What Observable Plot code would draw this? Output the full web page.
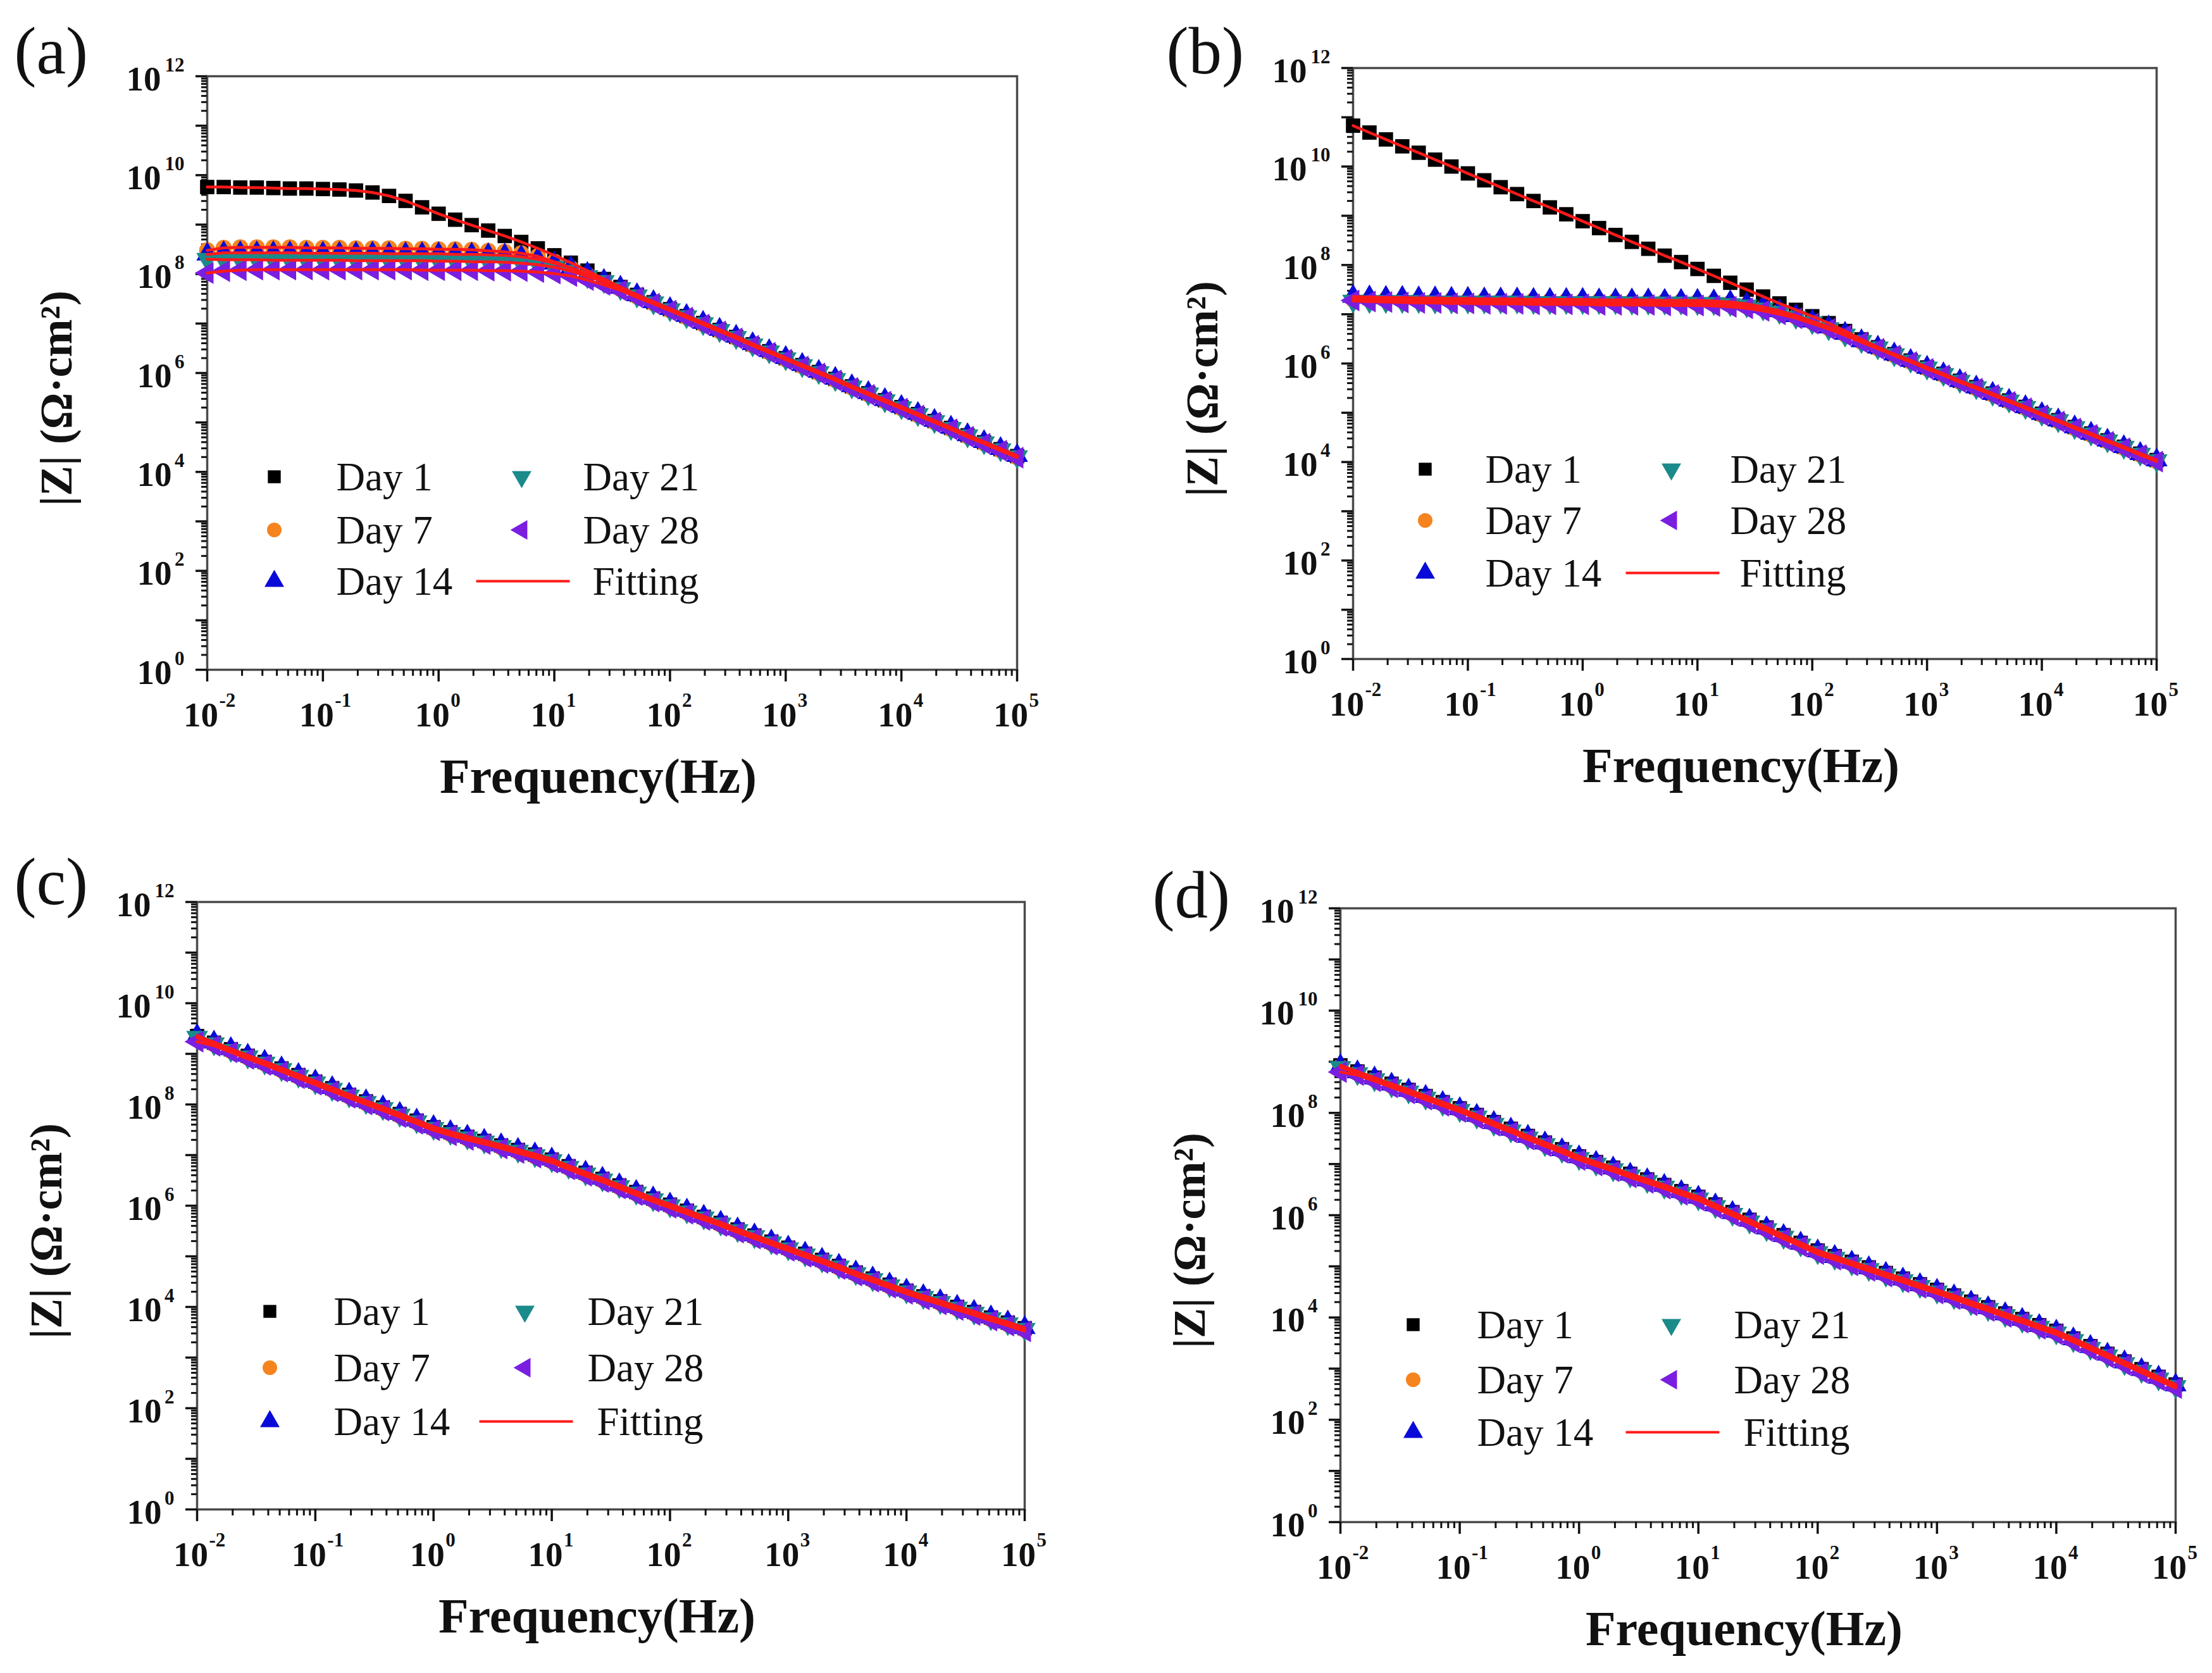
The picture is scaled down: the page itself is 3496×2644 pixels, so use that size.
<!DOCTYPE html>
<html>
<head>
<meta charset="utf-8">
<script src="https://cdn.jsdelivr.net/npm/d3@7"></script>
<script src="https://cdn.jsdelivr.net/npm/@observablehq/plot@0.6"></script>
<style>
html, body { margin: 0; padding: 0; background: #ffffff; }
#fig { position: relative; width: 3496px; height: 2644px; background: #ffffff; overflow: hidden; }
#fig svg { position: absolute; }
</style>
</head>
<body>
<div id="fig"></div>
<script>
// ---------- data ----------
const freq = [0.01,0.01389,0.01931,0.02683,0.03728,0.05179,0.07197,
  0.1,0.1389,0.1931,0.2683,0.3728,0.5179,0.7197,
  1,1.389,1.931,2.683,3.728,5.179,7.197,
  10,13.89,19.31,26.83,37.28,51.79,71.97,
  100,138.9,193.1,268.3,372.8,517.9,719.7,
  1000,1389,1931,2683,3728,5179,7197,
  10000,13890,19310,26830,37280,51790,71970,
  100000];

const seriesNames = ["Day 1", "Day 7", "Day 14", "Day 21", "Day 28"];

// log10 |Z| values
const a_day1  = [9.76,9.76,9.75,9.75,9.74,9.73,9.73,9.72,9.71,9.69,9.65,9.58,9.48,9.35,9.22,9.10,8.99,8.88,8.77,8.65,8.52,8.38,8.23,8.07,7.90,7.74,7.58,7.43,7.29,7.15,7.01,6.87,6.73,6.58,6.44,6.30,6.16,6.02,5.88,5.73,5.59,5.45,5.31,5.17,5.03,4.89,4.74,4.60,4.46,4.32];
const a_day7  = [8.48,8.53,8.54,8.54,8.54,8.54,8.53,8.53,8.53,8.52,8.52,8.52,8.51,8.51,8.50,8.50,8.49,8.47,8.45,8.42,8.36,8.25,8.12,7.98,7.84,7.70,7.55,7.41,7.27,7.13,6.99,6.85,6.71,6.56,6.42,6.28,6.14,6.00,5.86,5.71,5.57,5.43,5.29,5.15,5.01,4.87,4.72,4.58,4.44,4.30];
const a_day14 = [8.40,8.43,8.43,8.43,8.43,8.43,8.42,8.42,8.42,8.42,8.42,8.41,8.41,8.41,8.41,8.40,8.40,8.39,8.38,8.35,8.30,8.22,8.13,8.01,7.87,7.73,7.58,7.44,7.30,7.16,7.02,6.88,6.74,6.59,6.45,6.31,6.17,6.03,5.89,5.74,5.60,5.46,5.32,5.18,5.04,4.90,4.75,4.61,4.47,4.33];
const a_day21 = [8.30,8.29,8.29,8.29,8.28,8.28,8.28,8.28,8.28,8.27,8.27,8.27,8.27,8.27,8.26,8.26,8.25,8.25,8.24,8.22,8.19,8.14,8.06,7.95,7.85,7.71,7.56,7.42,7.28,7.14,7.00,6.86,6.72,6.57,6.43,6.29,6.15,6.01,5.87,5.72,5.58,5.44,5.30,5.16,5.02,4.88,4.73,4.59,4.45,4.31];
const a_day28 = [8.02,8.06,8.08,8.09,8.09,8.09,8.09,8.09,8.09,8.09,8.09,8.09,8.09,8.08,8.08,8.08,8.08,8.07,8.07,8.06,8.04,8.01,7.96,7.88,7.78,7.67,7.53,7.40,7.26,7.12,6.98,6.84,6.70,6.55,6.41,6.27,6.13,5.99,5.85,5.70,5.56,5.42,5.28,5.14,5.00,4.86,4.71,4.57,4.43,4.29];

const b_day1  = [10.83,10.69,10.55,10.41,10.28,10.14,10.00,9.86,9.72,9.58,9.44,9.30,9.17,9.03,8.89,8.75,8.61,8.47,8.33,8.19,8.06,7.92,7.78,7.64,7.50,7.36,7.22,7.09,6.96,6.82,6.66,6.49,6.33,6.19,6.06,5.92,5.79,5.65,5.52,5.39,5.25,5.12,4.98,4.85,4.71,4.58,4.44,4.31,4.17,4.04];
const b_day7  = [7.30,7.30,7.30,7.29,7.29,7.29,7.29,7.28,7.28,7.28,7.28,7.28,7.27,7.27,7.27,7.27,7.27,7.26,7.26,7.26,7.26,7.25,7.25,7.23,7.19,7.13,7.05,6.95,6.84,6.72,6.59,6.44,6.31,6.17,6.04,5.90,5.77,5.63,5.50,5.37,5.23,5.10,4.96,4.83,4.69,4.56,4.42,4.29,4.15,4.02];
const b_day14 = [7.36,7.35,7.34,7.34,7.33,7.33,7.32,7.32,7.31,7.31,7.31,7.30,7.30,7.30,7.30,7.29,7.29,7.29,7.29,7.28,7.28,7.28,7.27,7.25,7.21,7.15,7.07,6.97,6.86,6.74,6.61,6.46,6.33,6.19,6.06,5.92,5.79,5.65,5.52,5.39,5.25,5.12,4.98,4.85,4.71,4.58,4.44,4.31,4.17,4.04];
const b_day21 = [7.27,7.26,7.26,7.26,7.26,7.25,7.25,7.25,7.25,7.25,7.25,7.24,7.24,7.24,7.24,7.24,7.24,7.23,7.23,7.23,7.23,7.22,7.22,7.20,7.17,7.11,7.04,6.94,6.83,6.71,6.58,6.45,6.32,6.18,6.05,5.91,5.78,5.64,5.51,5.38,5.24,5.11,4.97,4.84,4.70,4.57,4.43,4.30,4.16,4.03];
const b_day28 = [7.28,7.26,7.25,7.24,7.23,7.23,7.22,7.22,7.21,7.21,7.21,7.20,7.20,7.20,7.20,7.19,7.19,7.19,7.19,7.18,7.18,7.18,7.17,7.15,7.12,7.07,7.00,6.92,6.81,6.70,6.57,6.43,6.30,6.16,6.03,5.89,5.76,5.62,5.49,5.36,5.22,5.09,4.95,4.82,4.68,4.55,4.41,4.28,4.14,4.01];

const c_day1  = [9.35,9.22,9.09,8.96,8.84,8.71,8.58,8.45,8.32,8.19,8.06,7.94,7.81,7.68,7.55,7.45,7.36,7.28,7.19,7.10,7.01,6.91,6.78,6.65,6.53,6.40,6.27,6.14,6.02,5.90,5.78,5.66,5.53,5.41,5.29,5.17,5.05,4.93,4.81,4.68,4.56,4.44,4.32,4.21,4.11,4.00,3.90,3.79,3.69,3.58];
const c_day7  = [9.32,9.19,9.06,8.93,8.81,8.68,8.55,8.42,8.29,8.16,8.03,7.91,7.78,7.65,7.52,7.42,7.33,7.25,7.16,7.07,6.98,6.88,6.75,6.62,6.50,6.37,6.24,6.11,5.99,5.87,5.75,5.63,5.50,5.38,5.26,5.14,5.02,4.90,4.78,4.65,4.53,4.41,4.29,4.18,4.08,3.97,3.87,3.76,3.66,3.55];
const c_day14 = [9.36,9.23,9.10,8.97,8.85,8.72,8.59,8.46,8.33,8.20,8.07,7.95,7.82,7.69,7.56,7.46,7.37,7.29,7.20,7.11,7.02,6.92,6.79,6.66,6.54,6.41,6.28,6.15,6.03,5.91,5.79,5.67,5.54,5.42,5.30,5.18,5.06,4.94,4.82,4.69,4.57,4.45,4.33,4.22,4.12,4.01,3.91,3.80,3.70,3.59];
const c_day21 = [9.33,9.20,9.07,8.94,8.82,8.69,8.56,8.43,8.30,8.17,8.04,7.92,7.79,7.66,7.53,7.43,7.34,7.26,7.17,7.08,6.99,6.89,6.76,6.63,6.51,6.38,6.25,6.12,6.00,5.88,5.76,5.64,5.51,5.39,5.27,5.15,5.03,4.91,4.79,4.66,4.54,4.42,4.30,4.19,4.09,3.98,3.88,3.77,3.67,3.56];
const c_day28 = [9.24,9.16,9.03,8.90,8.78,8.65,8.52,8.39,8.26,8.13,8.00,7.88,7.75,7.62,7.49,7.39,7.30,7.22,7.13,7.04,6.95,6.85,6.72,6.59,6.47,6.34,6.21,6.08,5.96,5.84,5.72,5.60,5.47,5.35,5.23,5.11,4.99,4.87,4.75,4.62,4.50,4.38,4.26,4.15,4.05,3.94,3.84,3.73,3.63,3.52];

const d_day1  = [8.93,8.81,8.69,8.57,8.45,8.33,8.21,8.09,7.96,7.82,7.69,7.55,7.42,7.29,7.15,7.04,6.93,6.81,6.70,6.59,6.47,6.36,6.21,6.06,5.91,5.76,5.61,5.46,5.31,5.20,5.09,4.98,4.87,4.76,4.65,4.54,4.43,4.31,4.20,4.08,3.97,3.85,3.74,3.59,3.44,3.29,3.14,2.99,2.84,2.69];
const d_day7  = [8.90,8.78,8.66,8.54,8.42,8.30,8.18,8.06,7.93,7.79,7.66,7.52,7.39,7.26,7.12,7.01,6.90,6.78,6.67,6.56,6.44,6.33,6.18,6.03,5.88,5.73,5.58,5.43,5.28,5.17,5.06,4.95,4.84,4.73,4.62,4.51,4.40,4.28,4.17,4.05,3.94,3.82,3.71,3.56,3.41,3.26,3.11,2.96,2.81,2.66];
const d_day14 = [8.92,8.80,8.68,8.56,8.44,8.32,8.20,8.08,7.95,7.81,7.68,7.54,7.41,7.28,7.14,7.03,6.92,6.80,6.69,6.58,6.46,6.35,6.20,6.05,5.90,5.75,5.60,5.45,5.30,5.19,5.08,4.97,4.86,4.75,4.64,4.53,4.42,4.30,4.19,4.07,3.96,3.84,3.73,3.58,3.43,3.28,3.13,2.98,2.83,2.68];
const d_day21 = [8.89,8.77,8.65,8.53,8.41,8.29,8.17,8.05,7.92,7.78,7.65,7.51,7.38,7.25,7.11,7.00,6.89,6.77,6.66,6.55,6.43,6.32,6.17,6.02,5.87,5.72,5.57,5.42,5.27,5.16,5.05,4.94,4.83,4.72,4.61,4.50,4.39,4.27,4.16,4.04,3.93,3.81,3.70,3.55,3.40,3.25,3.10,2.95,2.80,2.65];
const d_day28 = [8.80,8.74,8.62,8.50,8.38,8.26,8.14,8.02,7.89,7.75,7.62,7.48,7.35,7.22,7.08,6.97,6.86,6.74,6.63,6.52,6.40,6.29,6.14,5.99,5.84,5.69,5.54,5.39,5.24,5.13,5.02,4.91,4.80,4.69,4.58,4.47,4.36,4.24,4.13,4.01,3.90,3.78,3.67,3.52,3.37,3.22,3.07,2.92,2.77,2.62];

// tick labels
const xTicks = [1e-2, 1e-1, 1e0, 1e1, 1e2, 1e3, 1e4, 1e5];
const xExps  = ["-2", "-1", "0", "1", "2", "3", "4", "5"];
const yTicks = [1e0, 1e2, 1e4, 1e6, 1e8, 1e10, 1e12];
const yExps  = ["0", "2", "4", "6", "8", "10", "12"];
const yDecades = [1e0,1e1,1e2,1e3,1e4,1e5,1e6,1e7,1e8,1e9,1e10,1e11,1e12];

const xMinor = [];
for (let e = -2; e < 5; e++) for (let k = 2; k <= 9; k++) xMinor.push(k * Math.pow(10, e));
const yMinor = [];
for (let e = 0; e < 12; e++) for (let k = 2; k <= 9; k++) yMinor.push(k * Math.pow(10, e));

// ---------- styles ----------
const colors = ["#000000", "#f5841f", "#0a0ad8", "#1b8a8a", "#7a1ee0"];
const fitColor = "#ff1a1a";
const sqrt3 = Math.sqrt(3);
const triDown = {draw(ctx, size) { const y = -Math.sqrt(size / (sqrt3 * 3)); ctx.moveTo(0, -y * 2); ctx.lineTo(-sqrt3 * y, y); ctx.lineTo(sqrt3 * y, y); ctx.closePath(); }};
const triLeft = {draw(ctx, size) { const y = -Math.sqrt(size / (sqrt3 * 3)); ctx.moveTo(y * 2, 0); ctx.lineTo(-y, -sqrt3 * y); ctx.lineTo(-y, sqrt3 * y); ctx.closePath(); }};
const lineSym = {draw(ctx) { ctx.moveTo(-74, 0); ctx.lineTo(74, 0); }};
const symbols = ["square", "circle", "triangle", triDown, triLeft];
const R = 12.8;
const RL = 11.5;
const FONT = "'Liberation Serif', 'Times New Roman', Times, serif";

const panels = [
  {label: "(a)", series: [a_day1, a_day7, a_day14, a_day21, a_day28], left: 0, top: 0,
   m: {l: 327, r: 141, t: 120, b: 264}, lab: [-305, -5], leg: [106, 204, 497, 594], rows: [-305, -221, -140]},
  {label: "(b)", series: [b_day1, b_day7, b_day14, b_day21, b_day28], left: 1748, top: 0,
   m: {l: 390, r: 88, t: 107, b: 281}, lab: [-295, 8], leg: [114, 209, 503, 596], rows: [-300, -219, -136]},
  {label: "(c)", series: [c_day1, c_day7, c_day14, c_day21, c_day28], left: 0, top: 1322,
   m: {l: 311, r: 129, t: 103, b: 259}, lab: [-289, 3], leg: [115, 216, 518, 617], rows: [-313, -224, -139]},
  {label: "(d)", series: [d_day1, d_day7, d_day14, d_day21, d_day28], left: 1748, top: 1322,
   m: {l: 370, r: 58, t: 113, b: 239}, lab: [-297, 14], leg: [115, 216, 523, 622], rows: [-312, -225, -142]}
];

const fig = document.getElementById("fig");

for (const p of panels) {
  const tables = p.series.map(vals => vals.map((v, i) => ({f: freq[i], z: Math.pow(10, v)})));
  const marks = [];
  marks.push(Plot.frame({stroke: "#4a4a4a", strokeWidth: 3.5}));
  // axes (ticks only)
  marks.push(Plot.axisX({ticks: xTicks, tickSize: 19, tickFormat: () => "", strokeWidth: 3.5, anchor: "bottom", label: null}));
  marks.push(Plot.axisX({ticks: xMinor, tickSize: 10, tickFormat: () => "", strokeWidth: 3, anchor: "bottom", label: null}));
  marks.push(Plot.axisY({ticks: yDecades, tickSize: 18, tickFormat: () => "", strokeWidth: 3.5, anchor: "left", label: null}));
  marks.push(Plot.axisY({ticks: yMinor, tickSize: 9, tickFormat: () => "", strokeWidth: 3, anchor: "left", label: null}));
  // x tick labels
  marks.push(Plot.text(xTicks, {x: d => d, text: () => "10", frameAnchor: "bottom", dx: -10, dy: 89, textAnchor: "middle", lineAnchor: "bottom", fontSize: 55, fontWeight: "bold"}));
  marks.push(Plot.text(xTicks, {x: d => d, text: (d, i) => xExps[i], frameAnchor: "bottom", dx: 19, dy: 58, textAnchor: "start", lineAnchor: "bottom", fontSize: 31, fontWeight: "bold"}));
  // y tick labels
  const y1 = yTicks.filter((d, i) => yExps[i].length === 1);
  const y2 = yTicks.filter((d, i) => yExps[i].length === 2);
  marks.push(Plot.text(y1, {y: d => d, text: () => "10", frameAnchor: "left", dx: -56, dy: 22, textAnchor: "end", lineAnchor: "bottom", fontSize: 55, fontWeight: "bold"}));
  marks.push(Plot.text(y2, {y: d => d, text: () => "10", frameAnchor: "left", dx: -73, dy: 22, textAnchor: "end", lineAnchor: "bottom", fontSize: 55, fontWeight: "bold"}));
  marks.push(Plot.text(yTicks, {y: d => d, text: (d, i) => yExps[i], frameAnchor: "left", dx: -36, dy: -8, textAnchor: "end", lineAnchor: "bottom", fontSize: 31, fontWeight: "bold"}));
  // axis titles
  marks.push(Plot.text(["Frequency(Hz)"], {text: d => d, frameAnchor: "bottom", dx: -22, dy: 194, textAnchor: "middle", lineAnchor: "bottom", fontSize: 78, fontWeight: "bold"}));
  marks.push(Plot.text(["|Z| (\u03A9\u00B7cm\u00B2)"], {text: d => d, frameAnchor: "left", rotate: -90, dx: -215, dy: 40, textAnchor: "middle", lineAnchor: "bottom", fontSize: 72, fontWeight: "bold"}));
  // panel label
  marks.push(Plot.text([p.label], {text: d => d, frameAnchor: "top-left", dx: p.lab[0], dy: p.lab[1], textAnchor: "start", lineAnchor: "bottom", fontSize: 105}));
  // data markers
  tables.forEach((t, k) => marks.push(Plot.dot(t, {x: "f", y: "z", symbol: symbols[k], fill: colors[k], r: R})));
  // fitting curves
  tables.forEach(t => marks.push(Plot.line(t, {x: "f", y: "z", stroke: fitColor, strokeWidth: 4.5})));
  // legend
  const [s1, t1, s2, t2] = p.leg;
  const rows = p.rows;
  const legendItems = [
    {sx: s1, tx: t1, row: 0, k: 0},
    {sx: s1, tx: t1, row: 1, k: 1},
    {sx: s1, tx: t1, row: 2, k: 2},
    {sx: s2, tx: t2, row: 0, k: 3},
    {sx: s2, tx: t2, row: 1, k: 4}
  ];
  for (const it of legendItems) {
    marks.push(Plot.dot([0], {frameAnchor: "bottom-left", dx: it.sx, dy: rows[it.row], symbol: symbols[it.k], fill: colors[it.k], r: RL}));
    marks.push(Plot.text([seriesNames[it.k]], {text: d => d, frameAnchor: "bottom-left", dx: it.tx, dy: rows[it.row] + 21, textAnchor: "start", lineAnchor: "bottom", fontSize: 63}));
  }
  marks.push(Plot.dot([0], {frameAnchor: "bottom-left", dx: s2 + 2, dy: rows[2], symbol: lineSym, stroke: fitColor, fill: "none", strokeWidth: 4}));
  marks.push(Plot.text(["Fitting"], {text: d => d, frameAnchor: "bottom-left", dx: t2 + 15, dy: rows[2] + 21, textAnchor: "start", lineAnchor: "bottom", fontSize: 63}));

  const svg = Plot.plot({
    width: 1748,
    height: 1322,
    marginLeft: p.m.l,
    marginRight: p.m.r,
    marginTop: p.m.t,
    marginBottom: p.m.b,
    x: {type: "log", domain: [1e-2, 1e5], axis: null},
    y: {type: "log", domain: [1, 1e12], axis: null},
    style: {fontFamily: FONT, background: "transparent", color: "#111", overflow: "visible"},
    marks
  });
  svg.style.left = p.left + "px";
  svg.style.top = p.top + "px";
  fig.appendChild(svg);
}
</script>
</body>
</html>
